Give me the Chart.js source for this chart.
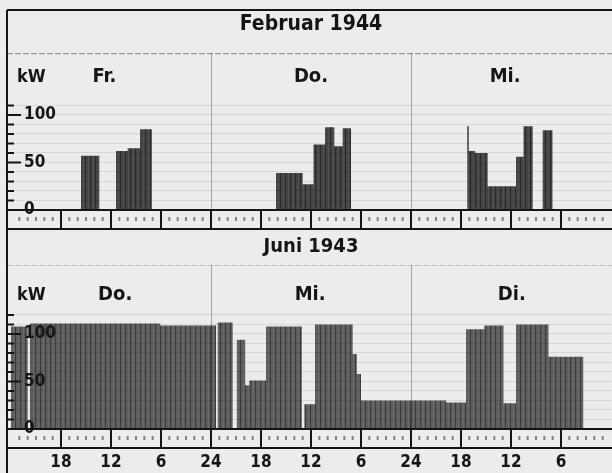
<!DOCTYPE html>
<html>
<head>
<meta charset="utf-8">
<script src="https://cdn.jsdelivr.net/npm/chart.js@4.4.1/dist/chart.umd.min.js"></script>
<style>
    body { margin: 0; background: #ececec; }
    #wrap { position: relative; width: 612px; height: 473px; overflow: hidden; background: #ececec; }
    canvas { position: absolute; left: 0; }
    #febChart { top: 0; }
    #juniChart { top: 230px; }
</style>
</head>
<body>
<div id="wrap">
    <canvas id="febChart" width="612" height="230"></canvas>
    <canvas id="juniChart" width="612" height="243"></canvas>
</div>
<script>
// Hours are counted back from Di./Mi. 0:00 at the right edge, so the time axis runs right to left.
const hourMax = 72;

// Februar 1944: load blocks (hour from, hour to, kW)
const febFrom = [7.0, 9.4, 10.5, 11.4, 14.8, 16.3, 17.05, 31.2, 32.2, 33.2, 34.3, 35.7, 37.0, 55.1, 56.5, 58.0, 61.4];
const febTo   = [8.2, 10.5, 11.4, 14.8, 16.3, 17.05, 17.25, 32.2, 33.2, 34.3, 35.7, 37.0, 40.2, 56.5, 58.0, 59.4, 63.6];
const febKW   = [84, 88, 56, 25, 60, 62, 88, 86, 67, 87, 69, 27, 39, 85, 65, 62, 57];
const febDays = ['Mi.', 'Do.', 'Fr.'];
const febDayHours = [12.7, 36.0, 60.8];

// Juni 1943
const juniFrom = [3.3, 7.5, 11.4, 12.9, 15.2, 17.4, 19.8, 30.0, 30.5, 31.0, 35.5, 37.1, 41.4, 43.4, 43.9, 45.4, 47.4, 54.1, 70.0];
const juniTo   = [7.5, 11.4, 12.9, 15.2, 17.4, 19.8, 30.0, 30.5, 31.0, 35.5, 36.8, 41.4, 43.4, 43.9, 44.9, 47.2, 54.1, 69.7, 72.0];
const juniKW   = [76, 110, 27, 109, 105, 28, 30, 58, 79, 110, 26, 108, 51, 46, 94, 112, 109, 111, 108];
const juniDays = ['Di.', 'Mi.', 'Do.'];
const juniDayHours = [11.9, 36.1, 59.5];

const kwTicksFeb = [0, 10, 20, 30, 40, 50, 60, 70, 80, 90, 100, 110];
const kwTicksJuni = [0, 10, 20, 30, 40, 50, 60, 70, 80, 90, 100, 110, 120];
const kwLabels = [0, 50, 100];

const FONT = "'DejaVu Sans Condensed', 'DejaVu Sans', sans-serif";
const INK = '#151515';

function blocks(from, to, kw) {
    const pts = [];
    from.forEach((h, i) => {
        pts.push({ x: h, y: 0 }, { x: h, y: kw[i] }, { x: to[i], y: kw[i] }, { x: to[i], y: 0 });
    });
    return pts;
}

function stripes(base) {
    const c = document.createElement('canvas');
    c.width = 5; c.height = 6;
    const g = c.getContext('2d');
    g.fillStyle = base; g.fillRect(0, 0, 5, 6);
    g.fillStyle = 'rgba(0,0,0,0.35)'; g.fillRect(0, 0, 1, 6);
    g.fillStyle = 'rgba(255,255,255,0.07)'; g.fillRect(3, 0, 1, 6);
    return g.createPattern(c, 'repeat');
}

// frame, 6-hour strip, kW tick marks, day names
const sheet = {
    id: 'sheet',
    afterDraw(chart, args, opts) {
        const { ctx, chartArea: a, scales: { x, y } } = chart;
        const base = y.getPixelForValue(0);
        const W = chart.width;
        ctx.save();
        ctx.strokeStyle = INK;

        // left frame
        ctx.lineWidth = 2;
        ctx.beginPath();
        ctx.moveTo(7, opts.frameTop); ctx.lineTo(7, chart.height);
        if (opts.frameTop > 0) { ctx.moveTo(7, opts.frameTop); ctx.lineTo(W, opts.frameTop); }
        ctx.stroke();

        // paper line under the title
        ctx.strokeStyle = opts.topLine;
        ctx.lineWidth = 1;
        ctx.setLineDash([6, 2]);
        ctx.beginPath(); ctx.moveTo(7, a.top + 0.5); ctx.lineTo(W, a.top + 0.5); ctx.stroke();
        ctx.setLineDash([]);

        // day separators
        ctx.strokeStyle = 'rgba(0,0,0,0.3)';
        [24, 48].forEach(h => {
            const px = Math.round(x.getPixelForValue(h)) + 0.5;
            ctx.beginPath(); ctx.moveTo(px, a.top); ctx.lineTo(px, base); ctx.stroke();
        });

        // time strip
        ctx.strokeStyle = INK;
        ctx.lineWidth = 2;
        ctx.beginPath();
        ctx.moveTo(7, base); ctx.lineTo(W, base);
        ctx.moveTo(7, base + 19); ctx.lineTo(W, base + 19);
        for (let h = 6; h < hourMax; h += 6) {
            const px = x.getPixelForValue(h);
            ctx.moveTo(px, base); ctx.lineTo(px, base + 19);
        }
        ctx.stroke();
        ctx.fillStyle = 'rgba(0,0,0,0.45)';
        for (let h = 1; h < hourMax; h++) {
            if (h % 6 === 0) continue;
            const px = x.getPixelForValue(h);
            ctx.fillRect(px - 1, base + 7, 2, 4);
        }

        // kW tick marks from the frame
        ctx.strokeStyle = INK;
        ctx.lineWidth = 2;
        ctx.beginPath();
        y.ticks.forEach(t => {
            const py = y.getPixelForValue(t.value);
            const len = t.value % 50 === 0 ? 14 : 7;
            ctx.moveTo(7, py); ctx.lineTo(7 + len, py);
        });
        ctx.stroke();

        // labels
        ctx.fillStyle = INK;
        ctx.textBaseline = 'middle';
        ctx.font = `bold 18px ${FONT}`;
        ctx.textAlign = 'left';
        ctx.fillText('kW', 17, opts.labelY);
        ctx.font = `bold 20px ${FONT}`;
        ctx.textAlign = 'center';
        opts.days.forEach((d, i) => {
            ctx.fillText(d, x.getPixelForValue(opts.dayHours[i]), opts.labelY);
        });
        ctx.restore();
    }
};

function makeChart(id, cfg) {
    return new Chart(document.getElementById(id), {
        type: 'line',
        data: {
            datasets: [{
                data: blocks(cfg.from, cfg.to, cfg.kw),
                fill: 'origin',
                backgroundColor: stripes(cfg.fillColor),
                borderWidth: 0,
                pointRadius: 0,
                tension: 0
            }]
        },
        options: {
            responsive: false,
            animation: false,
            events: [],
            layout: { padding: { left: 11, right: 1, top: 0, bottom: cfg.padBottom } },
            plugins: {
                legend: { display: false },
                tooltip: { enabled: false },
                title: {
                    display: true,
                    text: cfg.title,
                    color: INK,
                    font: { family: FONT, size: cfg.titleSize, weight: 'bold' },
                    padding: cfg.titlePad
                },
                sheet: {
                    frameTop: cfg.frameTop,
                    topLine: cfg.topLine,
                    labelY: cfg.labelY,
                    days: cfg.days,
                    dayHours: cfg.dayHours
                }
            },
            scales: {
                x: {
                    type: 'linear',
                    reverse: true,
                    min: 0,
                    max: hourMax,
                    display: cfg.showHours,
                    afterFit: s => {
                        s.height = cfg.showHours ? 44 : 0;
                        s.paddingLeft = 0;
                        s.paddingRight = 0;
                    },
                    grid: { display: false, drawTicks: false },
                    border: { display: false },
                    ticks: {
                        stepSize: 6,
                        autoSkip: false,
                        maxRotation: 0,
                        padding: 23,
                        color: INK,
                        font: { family: FONT, size: 17, weight: 'bold' },
                        callback: v => (v === 0 || v === hourMax) ? '' : String(v % 24 === 0 ? 24 : v % 24)
                    }
                },
                y: {
                    min: 0,
                    max: cfg.kwMax,
                    afterFit: s => { s.width = 0; s.paddingTop = 0; s.paddingBottom = 0; },
                    afterBuildTicks: s => { s.ticks = cfg.kwTicks.map(v => ({ value: v })); },
                    border: { display: false },
                    grid: { color: 'rgba(0,0,0,0.09)', drawTicks: false, z: 1 },
                    ticks: {
                        mirror: true,
                        autoSkip: false,
                        padding: 13,
                        z: 1,
                        color: INK,
                        font: { family: FONT, size: 17, weight: 'bold' },
                        callback: v => kwLabels.includes(v) ? String(v) : ''
                    }
                }
            }
        },
        plugins: [sheet]
    });
}

makeChart('febChart', {
    from: febFrom, to: febTo, kw: febKW,
    fillColor: '#444444',
    title: 'Februar 1944', titleSize: 21, titlePad: { top: 12, bottom: 16 },
    padBottom: 20, showHours: false,
    kwMax: 165, kwTicks: kwTicksFeb,
    frameTop: 10, topLine: 'rgba(0,0,0,0.45)', labelY: 77,
    days: febDays, dayHours: febDayHours
});

makeChart('juniChart', {
    from: juniFrom, to: juniTo, kw: juniKW,
    fillColor: '#5e5e5e',
    title: 'Juni 1943', titleSize: 20, titlePad: { top: 5, bottom: 6 },
    padBottom: 0, showHours: true,
    kwMax: 172.6, kwTicks: kwTicksJuni,
    frameTop: 0, topLine: 'rgba(0,0,0,0.18)', labelY: 65,
    days: juniDays, dayHours: juniDayHours
});
</script>
</body>
</html>
